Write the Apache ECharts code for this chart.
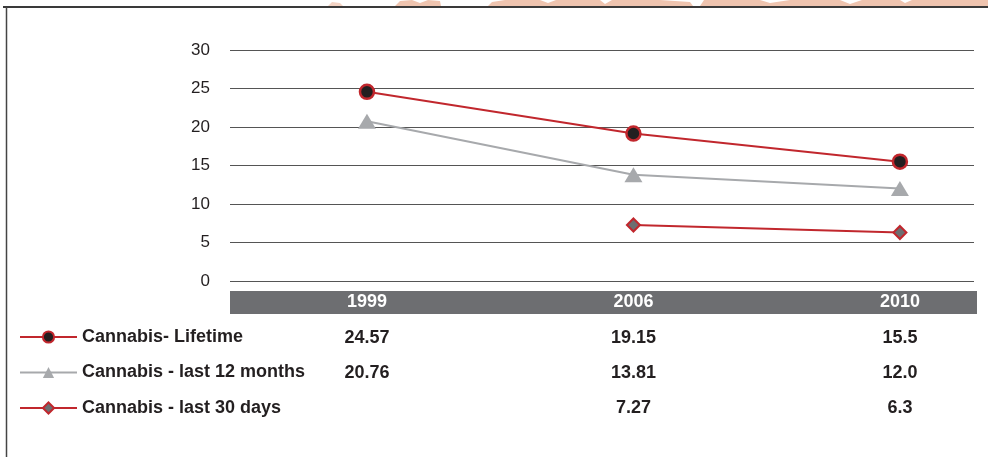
<!DOCTYPE html>
<html>
<head>
<meta charset="utf-8">
<script src="https://cdn.jsdelivr.net/npm/echarts@6/dist/echarts.min.js"></script>
<style>
html,body{margin:0;padding:0;background:#fff;}
#c{width:988px;height:457px;}
</style>
</head>
<body>
<div id="c"></div>
<script>
var years = ['1999', '2006', '2010'];
var seriesNames = ['Cannabis- Lifetime', 'Cannabis - last 12 months', 'Cannabis - last 30 days'];
var lifetime = [24.57, 19.15, 15.5];
var last12 = [20.76, 13.81, 12.0];
var last30 = [null, 7.27, 6.3];
var yTicks = [0, 5, 10, 15, 20, 25, 30];

var RED = '#c1272d';
var GRAY = '#a7a9ac';
var DARK = '#6d6e71';
var TXT = '#231f20';
var FONT = '"Liberation Sans", Arial, sans-serif';

function pts(arr) {
  return arr.map(function (v, i) { return [i, v]; });
}
function fmt(v) {
  return Number.isInteger(Math.round(v * 100) / 10) ? v.toFixed(1) : v.toFixed(2);
}
var allRows = [lifetime, last12, last30];
var tableData = [];
allRows.forEach(function (row, r) {
  row.forEach(function (v, i) {
    if (v !== null) tableData.push([i, r, v]);
  });
});

var xMin = -0.514, xMax = 2.278;

var chart = echarts.init(document.getElementById('c'), null, {renderer: 'canvas'});
chart.setOption({
  animation: false,
  backgroundColor: '#fff',
  textStyle: {fontFamily: FONT},
  grid: [
    {left: 230, right: 14, top: 50, bottom: 176},
    {left: 230, right: 14, top: 320.5, height: 105}
  ],
  xAxis: [
    {
      type: 'value', gridIndex: 0, min: xMin, max: xMax,
      splitLine: {show: false}, axisLine: {show: false}, axisTick: {show: false},
      axisLabel: {
        show: true, customValues: [0, 1, 2],
        formatter: function (v) { return years[Math.round(v)]; },
        color: '#fff', fontWeight: 'bold', fontSize: 18, fontFamily: FONT,
        margin: 21.5, verticalAlign: 'middle'
      },
      z: 10
    },
    {
      type: 'value', gridIndex: 1, min: xMin, max: xMax, show: false
    }
  ],
  yAxis: [
    {
      type: 'value', gridIndex: 0, min: 0, max: 30, interval: 5,
      axisLine: {show: false}, axisTick: {show: false},
      axisLabel: {
        color: TXT, fontSize: 17, fontFamily: FONT, margin: 20,
        formatter: function (v) { return yTicks.indexOf(v) >= 0 ? String(v) : ''; }
      },
      splitLine: {lineStyle: {color: '#555', width: 1}}
    },
    {
      type: 'category', gridIndex: 1, data: seriesNames, inverse: true, show: false
    }
  ],
  legend: {
    data: seriesNames,
    orient: 'vertical', left: 19, top: 328, padding: 0,
    itemWidth: 57, itemHeight: 14, itemGap: 17.5,
    textStyle: {fontSize: 18, fontWeight: 'bold', color: TXT, fontFamily: FONT},
    selectedMode: false
  },
  series: [
    {
      name: seriesNames[0], type: 'line', xAxisIndex: 0, yAxisIndex: 0,
      data: pts(lifetime), symbol: 'circle', symbolSize: 14,
      lineStyle: {color: RED, width: 2},
      itemStyle: {color: TXT, borderColor: RED, borderWidth: 2.5},
      z: 5
    },
    {
      name: seriesNames[1], type: 'line', xAxisIndex: 0, yAxisIndex: 0,
      data: pts(last12), symbol: 'triangle', symbolSize: [18, 15],
      lineStyle: {color: GRAY, width: 2},
      itemStyle: {color: GRAY, borderWidth: 0},
      z: 4
    },
    {
      name: seriesNames[2], type: 'line', xAxisIndex: 0, yAxisIndex: 0,
      data: pts(last30), symbol: 'diamond', symbolSize: 13,
      lineStyle: {color: RED, width: 2},
      itemStyle: {color: DARK, borderColor: RED, borderWidth: 2},
      z: 5
    },
    {
      name: 'table', type: 'scatter', xAxisIndex: 1, yAxisIndex: 1,
      data: tableData, symbolSize: 0, silent: true,
      itemStyle: {opacity: 1},
      label: {
        show: true, position: 'inside',
        formatter: function (p) { return fmt(p.value[2]); },
        fontSize: 18, fontWeight: 'bold', color: TXT, fontFamily: FONT
      }
    }
  ],
  graphic: [
    {type: 'rect', z: -1, shape: {x: 230, y: 291, width: 747, height: 23}, style: {fill: DARK}},
    {type: 'line', shape: {x1: 3, y1: 7, x2: 988, y2: 7}, style: {stroke: '#3a3a3a', lineWidth: 2}},
    {type: 'line', shape: {x1: 6.5, y1: 7, x2: 6.5, y2: 457}, style: {stroke: '#444', lineWidth: 1.5}},
    {type: 'polygon', shape: {points: [[328,6],[332,2],[340,3],[343,6]]}, style: {fill: '#f3d3c4'}},
    {type: 'polygon', shape: {points: [[395,6],[400,1],[412,0],[420,3],[428,0],[440,1],[441,6]]}, style: {fill: '#efc4af'}},
    {type: 'polygon', shape: {points: [[488,6],[492,2],[505,0],[540,0],[548,3],[556,0],[600,0],[605,4],[612,0],[660,0],[690,2],[693,6]]}, style: {fill: '#efc4af'}},
    {type: 'polygon', shape: {points: [[700,6],[704,0],[760,0],[770,3],[790,0],[840,0],[850,4],[862,0],[900,0],[905,3],[912,0],[988,0],[988,6]]}, style: {fill: '#efc4af'}}
  ]
});
</script>
</body>
</html>
